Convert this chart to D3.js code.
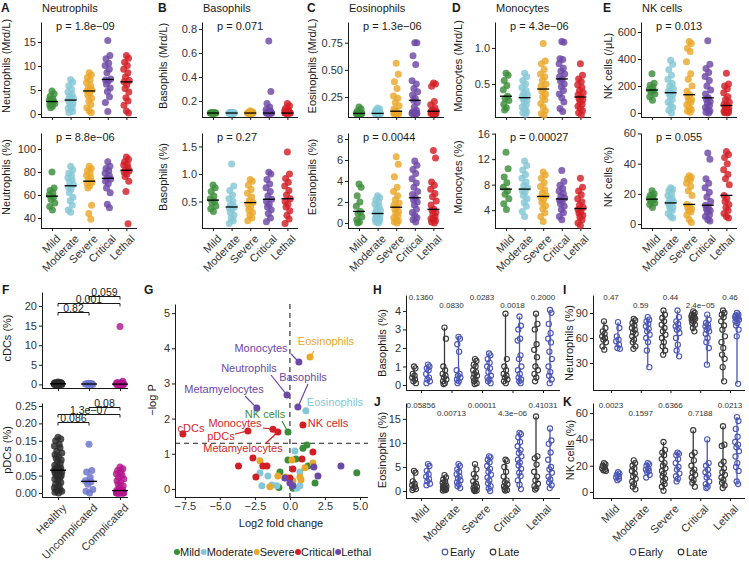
<!DOCTYPE html>
<html><head><meta charset="utf-8">
<script src="https://cdn.jsdelivr.net/npm/d3@7"></script>
<style>body{margin:0;background:#fff}svg{display:block}text{font-family:'Liberation Sans',Arial,sans-serif}</style>
</head><body><script>
// ---------------- DATA ----------------
const categories = ["Mild","Moderate","Severe","Critical","Lethal"];
const catColors = ["#3a8d3a","#84c7d6","#e9a72b","#6d48a6","#d21f26"];
const volcanoColors = ["#3a8d3a","#84c7d6","#e9a72b","#d21f26","#6d48a6"];

const neutrophilsAbs = [
  [4.8,4.2,3.7,3.2,2.9,2.6,2.5,2.2,1.9,1.6,1.3],
  [7.2,6.6,5.9,5.2,4.6,4.1,3.7,3.3,3.0,2.8,2.5,2.2,1.9,1.5,1.2,0.9,0.5,0.3],
  [8.6,8.2,7.6,7.1,6.5,5.9,5.4,5.0,4.8,4.4,3.9,3.3,2.7,2.0,1.3,0.6,0.3],
  [15.3,12.2,11.5,10.6,10.1,9.3,8.6,7.3,7.1,6.9,6.2,5.4,4.7,3.6,2.4,0.5],
  [12.2,11.6,10.8,10.1,9.3,8.6,7.7,7.0,6.7,6.1,5.3,4.6,3.4,2.7,1.8,0.6,0.2]
];
const neutrophilsPct = [
  [80,66,64,62,60,58,56,53,50,47],
  [85,82,79,77,75,73,71,69,67,65,62,58,55,51,47,45],
  [85,83,81,79,77,75,73,71,70,68,66,51,44,39],
  [89,85,83,81,79,77,75,74,72,70,66,62,52,49],
  [93,91,89,87,86,84,82,81,80,78,76,72,63,35]
];
const basophilsAbs = [
  [0.1,0.1,0.1,0.1,0.1,0.1,0.1,0.1,0.1,0.1,0.1],
  [0.1,0.1,0.1,0.1,0.1,0.1,0.1,0.1,0.1,0.1,0.1,0.1,0.1,0.1,0.1,0.1,0.1,0.1],
  [0.12,0.11,0.1,0.1,0.1,0.1,0.1,0.1,0.1,0.1,0.1,0.1,0.1,0.1,0.1,0.1,0.1],
  [0.7,0.28,0.18,0.15,0.13,0.12,0.11,0.1,0.1,0.1,0.1,0.1,0.1,0.1,0.1,0.1],
  [0.18,0.16,0.14,0.13,0.12,0.11,0.1,0.1,0.1,0.1,0.1,0.1,0.1,0.1,0.1,0.1]
];
const basophilsPct = [
  [0.8,0.75,0.68,0.6,0.55,0.5,0.47,0.42,0.37,0.32],
  [1.18,0.78,0.7,0.62,0.55,0.5,0.45,0.4,0.38,0.35,0.3,0.25,0.2,0.15,0.1],
  [0.9,0.87,0.8,0.72,0.65,0.58,0.52,0.48,0.45,0.4,0.35,0.3,0.25,0.2,0.15],
  [1.03,1.0,0.9,0.82,0.75,0.68,0.6,0.54,0.5,0.45,0.4,0.35,0.28,0.2,0.13],
  [1.4,1.0,0.92,0.85,0.78,0.7,0.62,0.55,0.5,0.45,0.4,0.33,0.25,0.18,0.1]
];
const eosinophilsAbs = [
  [0.16,0.14,0.12,0.11,0.1,0.1,0.1,0.1,0.1,0.1,0.1,0.1],
  [0.15,0.14,0.13,0.12,0.11,0.1,0.1,0.1,0.1,0.1,0.1,0.1,0.1,0.1,0.1,0.1,0.1],
  [0.56,0.46,0.39,0.33,0.26,0.24,0.2,0.17,0.14,0.12,0.12,0.1,0.1,0.1,0.1,0.1,0.1,0.1,0.1],
  [0.75,0.75,0.63,0.55,0.4,0.37,0.33,0.3,0.27,0.24,0.22,0.2,0.16,0.13,0.11,0.1,0.1,0.1,0.1,0.1,0.1],
  [0.38,0.37,0.35,0.21,0.18,0.15,0.13,0.12,0.12,0.1,0.1,0.1,0.1,0.1,0.1,0.1,0.1]
];
const eosinophilsPct = [
  [3.7,3.4,2.6,2.0,1.6,1.1,0.9,0.6,0.3,0.1,0.0],
  [2.6,2.4,2.2,2.0,1.8,1.6,1.4,1.2,1.0,0.9,0.8,0.7,0.6,0.5,0.4,0.3,0.2,0.1,0.0],
  [6.3,5.6,4.4,3.4,3.0,2.6,2.2,1.9,1.7,1.5,1.3,1.1,0.9,0.7,0.5,0.3,0.2,0.1,0.0],
  [5.9,5.5,5.1,4.7,4.2,3.8,3.4,3.0,2.7,2.4,2.2,2.0,1.7,1.3,1.0,0.7,0.5,0.3,0.1],
  [6.9,6.2,3.9,3.6,3.2,2.8,2.5,2.1,1.7,1.3,1.2,1.0,0.8,0.6,0.4,0.3,0.2,0.1,0.0]
];
const monocytesAbs = [
  [0.65,0.62,0.55,0.48,0.42,0.33,0.3,0.27,0.22,0.17,0.14],
  [0.65,0.6,0.55,0.5,0.45,0.41,0.38,0.35,0.33,0.31,0.29,0.27,0.24,0.21,0.18,0.15,0.12,0.1,0.08],
  [1.06,0.82,0.78,0.7,0.64,0.6,0.55,0.5,0.47,0.43,0.4,0.36,0.32,0.28,0.23,0.18,0.13,0.09,0.07],
  [1.09,1.08,0.85,0.84,0.78,0.72,0.68,0.64,0.6,0.57,0.54,0.5,0.46,0.41,0.36,0.31,0.25,0.16,0.12],
  [0.78,0.62,0.57,0.53,0.49,0.45,0.41,0.38,0.35,0.32,0.3,0.28,0.25,0.22,0.19,0.16,0.13,0.1,0.07]
];
const monocytesPct = [
  [13.1,10.5,9.2,8.3,7.6,7.0,6.5,5.8,5.0,4.1],
  [11.7,11.0,10.3,9.6,9.0,8.4,7.9,7.5,7.1,6.8,6.3,5.8,5.2,4.6,3.8,3.0],
  [10.0,9.5,9.0,8.3,7.7,7.2,6.7,6.3,6.0,5.7,5.2,4.7,4.2,3.6,3.0,2.2],
  [10.2,8.5,7.9,7.4,7.0,6.6,6.2,5.9,5.6,5.3,5.0,4.6,4.1,3.6,3.0,2.5],
  [9.0,7.6,7.0,6.4,5.8,5.3,4.8,4.4,4.1,3.8,3.5,3.2,2.9,2.5,2.0,1.6]
];
const nkAbs = [
  [290,220,205,190,175,165,155,140,120,95],
  [390,360,320,280,250,220,200,180,160,150,145,140,120,100,80,60,40,20,0],
  [530,515,480,455,380,290,250,200,160,135,120,100,90,80,60,40,25,15,5],
  [535,360,330,300,270,240,200,170,140,112,100,85,70,55,40,25,15,5,0],
  [295,215,200,180,150,120,100,80,65,55,45,35,25,18,12,8,5,2,0]
];
const nkPct = [
  [22,20,19,18,17,16,15,14,13,11],
  [24,23,22,20,19,17,16,15,14,13,12,11,10,9,7,5,4],
  [32,31,30,29,27,25,22,19,13,12,11,10,9,8,6,3,1],
  [47,43,30,27,24,21,18,15,12.5,11,10,9,8,6,5,3,2],
  [48,46,44,40,36,33,30,26,19,17,15,13,11,9,7,5,4]
];
const cellTitles = ["Neutrophils","Basophils","Eosinophils","Monocytes","NK cells"];
const absTitles = ["Neutrophils (Mrd/L)","Basophils (Mrd/L)","Eosinophils (Mrd/L)","Monocytes (Mrd/L)","NK cells (/μL)"];
const pctTitles = ["Neutrophils (%)","Basophils (%)","Eosinophils (%)","Monocytes (%)","NK cells (%)"];
const absP = ["p = 1.8e−09","p = 0.071","p = 1.3e−06","p = 4.3e−06","p = 0.013"];
const pctP = ["p = 8.8e−06","p = 0.27","p = 0.0044","p = 0.00027","p = 0.055"];

// Panel F
const dcGroups = ["Healthy","Uncomplicated","Complicated"];
const dcColors = ["#2b2b2b","#6a73c9","#b3158c"];
const cDCs = [
  [0.6,0.5,0.45,0.4,0.35,0.3,0.3,0.25,0.25,0.2,0.2,0.2,0.15,0.15,0.1,0.1,0.1,0.05,0.05,0.05,0,0,0,0,0],
  [0.3,0.2,0.15,0.1,0.1,0.05,0,0],
  [14.8,0.8,0.5,0.4,0.3,0.2,0.2,0.1,0.1,0.05,0.05,0,0,0,0,0,0,0]
];
const pDCs = [
  [0.16,0.155,0.15,0.14,0.135,0.13,0.12,0.115,0.11,0.105,0.1,0.095,0.09,0.085,0.08,0.075,0.072,0.07,0.068,0.066,0.065,0.064,0.06,0.058,0.055,0.052,0.05,0.048,0.045,0.04,0.035,0.03,0.025,0.02,0.015,0.01,0.008,0.005,0.002,0.0],
  [0.14,0.065,0.06,0.045,0.035,0.032,0.025,0.01,0.005,0.0],
  [0.075,0.07,0.065,0.06,0.055,0.05,0.045,0.04,0.035,0.03,0.025,0.02,0.015,0.01,0.008,0.006,0.004,0.003,0.002,0.001,0.001,0,0,0,0,0,0,0,0,0]
];
const cDCTests = [["Healthy","Uncomplicated","0.82",18.5],["Healthy","Complicated","0.001",20.8],["Uncomplicated","Complicated","0.059",22.6]];
const pDCTests = [["Healthy","Uncomplicated","0.086",0.204],["Healthy","Complicated","1.3e−07",0.227],["Uncomplicated","Complicated","0.08",0.247]];

// Panel G (log2 fold change, -log P)
const volcanoMild = [[1.21,1.25],[0.93,1.16],[-0.14,0.82],[-0.71,0.48],[1.79,0.17],[4.77,0.46],[0.21,0.02],[-0.79,0.04],[0.43,0.85],[1.29,0.65]];
const volcanoModerate = [[0.36,1.08],[-2.14,0.45],[-1.57,0.37],[-2.0,0.09],[-0.93,0.09],[0.71,0.48],[0.5,0.02],[-1.29,0.11],[0.71,0.09]];
const volcanoSevere = [[-2.14,0.8],[0.14,0.82],[-1.43,0.06],[1.07,0.6],[1.64,0.74],[-0.86,0.37],[0.71,0.34],[0.21,0.23],[-0.29,0.34],[0.79,0.26]];
const volcanoCritical = [[-3.67,0.65],[-2.64,0.88],[-1.64,0.65],[-2.43,0.34],[1.64,1.05],[0.86,0.85],[0.21,0.57],[-1.93,0.65],[0.0,0.31]];
const volcanoLethal = [[3.64,0.65],[2.0,0.37],[-0.36,0.31],[0.21,0.09],[1.71,0.62],[0.0,0.17]];
const volcanoLabeled = [
  ["Eosinophils","Severe",1.43,3.75],["Monocytes","Lethal",0.64,3.61],["Neutrophils","Lethal",-0.21,2.67],
  ["Basophils","Lethal",0.57,2.33],["Metamyelocytes","Lethal",-2.36,2.30],["Eosinophils","Moderate",1.14,2.22],
  ["NK cells","Mild",-0.14,1.62],["NK cells","Critical",0.93,1.82],["cDCs","Critical",-7.64,1.56],
  ["Monocytes","Critical",-1.21,1.70],["pDCs","Critical",-3.0,1.65],["Metamyelocytes","Critical",-0.86,1.62]
];
const volcanoXTicks = [-7.5,-5,-2.5,0,2.5,5];
const volcanoYTicks = [0,1,2,3,4,5];
const pThreshold = 1.3;

// Panels H-K (Late / Early)
const basoLate = [[1.0,0.9,0.6,0.5,0.4,0.3,0.2,0.1],[3.1,2.5,1.0,0.8,0.6,0.5,0.4,0.3,0.2,0.1,0.05],[1.4,1.3,1.1,1.0,0.8,0.7,0.6,0.5,0.4,0.3,0.2,0.1,0.05],[3.85,1.4,1.0,0.8,0.6,0.5,0.4,0.3,0.2,0.1],[3.85,3.3,3.0,2.2,1.9,1.5,1.0,0.8,0.6,0.4,0.2]];
const basoEarly = [[1.1,1.0,0.9,0.8,0.6,0.4,0.3,0.2,0.1],[2.6,2.5,2.2,1.8,0.8,0.6,0.5,0.4,0.3,0.2,0.1],[1.7,1.6,1.4,1.2,1.0,0.9,0.7,0.5,0.4,0.3,0.2,0.1],[3.7,3.2,3.0,2.5,2.4,1.6,1.4,1.0,0.8,0.6,0.4,0.3,0.2,0.1],[4.05,3.9,3.3,2.8,2.5,2.3,1.8,1.4,1.0,0.7,0.5,0.3,0.1]];
const neutLate = [[80,72,68,65,62,60,58,55,50,46],[83,81,78,75,72,70,67,65,62,58,55,50,47],[93,88,84,80,76,72,68,64,60,55,50,45,40],[92,90,88,87,86,85,84,83,82,80,78,76,72,68],[93,90,88,85,80,75,70,62,55,48,40,35,25,8]];
const neutEarly = [[79,72,62,58,56,52,48,47],[85,82,80,77,74,71,68,64,60,55,45,25],[93,85,80,77,74,72,70,66,60,52,45,38],[88,82,78,76,74,72,70,68,65,60,55,48,28],[90,88,87,86,85,84,83,82,80,78,75,70,62,5]];
const eosLate = [[4.2,3.8,2.0,1.5,1.2,0.9,0.6,0.4,0.2],[3.3,2.8,2.4,2.0,1.7,1.4,1.2,1.0,0.8,0.6,0.5,0.4,0.3,0.2,0.1],[5.6,4.5,3.5,2.8,2.0,1.5,1.2,0.9,0.6,0.4,0.2,0.1,0.0],[6.5,6.2,5.0,4.0,3.0,2.2,1.8,1.4,1.0,0.7,0.4,0.2,0.1],[15.5,7.2,6.8,5.5,4.0,3.0,2.2,1.5,1.0,0.6,0.3]];
const eosEarly = [[5.6,5.2,4.2,3.5,3.0,2.5,2.0,1.5,1.2],[5.6,5.2,4.5,4.0,3.5,3.0,2.6,2.2,1.8,1.4,1.0,0.6],[7.2,7.0,6.5,6.0,5.2,4.6,4.0,3.4,2.8,2.2,1.6,1.0,0.5,0.0],[12.1,11.8,11.2,10.2,9.3,8.5,7.9,7.2,6.5,5.9,5.3,4.6,3.8,3.1,2.2,1.3,0.4],[13.0,10.5,9.8,8.0,6.5,5.0,4.5,3.8,3.0,2.4,1.8,1.2,0.6]];
const nkLate = [[22,21,20,19,18,17,16.5,16],[24,22,20,18,16,14,12,10,8,6,4,2],[38,32,30,28,25,22,20,18,16,14,12,10,8,6,4,1],[47,30,28,24,20,17,15,13,11,9,7,4],[50,36,35,23,21,18,15,13,11,9,7,5,3]];
const nkEarly = [[15,14,13,12,11,10,9],[22,21,20,18,17,16,15,13,11],[30,29,28,25,22,19,17,14,12,10,8],[40,22,20,17,15,13,11,8,6,4,3],[57,54,48,42,38,36,34,31,27,22,19,16,8,6]];
const basoP = ["0.1360","0.0830","0.0283","0.0018","0.2000"];
const neutP = ["0.47","0.59","0.44","2.4e−05","0.46"];
const eosP = ["0.05856","0.00713","0.00011","4.3e−06","0.41031"];
const nkP = ["0.0023","0.1597","0.6366","0.7188","0.0213"];

// ---------------- DRAWING ----------------
const FONT = "'Liberation Sans', Arial, sans-serif";
const TXT = "#1a1a1a", TICK = "#333", AX = "#1a1a1a";
const LATE = "#3a3a3a", EARLY = "#4b56b5";
const jitterPattern = [0,0.7,-0.6,0.3,-0.9,0.5,-0.3,0.95,-0.75,0.15,-0.45,0.8,-0.15,0.55,-0.8];
const jit = i => jitterPattern[i % jitterPattern.length];

const svg = d3.select("body").append("svg").attr("width",749).attr("height",561)
  .attr("font-family",FONT);

function txt(x,y,s,opt={}){
  return svg.append("text").attr("x",x).attr("y",y).attr("font-size",opt.size||11)
    .attr("fill",opt.fill||TXT).attr("text-anchor",opt.anchor||"start")
    .attr("font-weight",opt.bold?"bold":null).text(s);
}
function rotText(cx,cy,s,size){
  svg.append("text").attr("transform",`translate(${cx},${cy}) rotate(-90)`)
    .attr("text-anchor","middle").attr("dy","0.35em").attr("font-size",size||11).attr("fill",TXT).text(s);
}
function yAxis(x, scale, ticks, fmt){
  const g = svg.append("g").attr("transform",`translate(${x},0)`)
    .call(d3.axisLeft(scale).tickValues(ticks).tickFormat(fmt).tickSize(3).tickSizeOuter(0).tickPadding(2));
  g.attr("font-family",FONT).attr("font-size",11);
  g.select(".domain").attr("stroke",AX);
  g.selectAll(".tick line").attr("stroke",AX);
  g.selectAll(".tick text").attr("fill",TICK);
}
function xAxisB(yPos, scale, x0, x1, withLabels){
  svg.append("line").attr("x1",x0).attr("x2",x1).attr("y1",yPos+0.5).attr("y2",yPos+0.5).attr("stroke",AX);
  const g = svg.append("g").attr("transform",`translate(0,${yPos})`)
    .call(d3.axisBottom(scale).tickSize(3).tickSizeOuter(0));
  g.attr("font-family",FONT).attr("font-size",11);
  g.select(".domain").remove();
  g.selectAll(".tick line").attr("stroke",AX);
  if(withLabels){
    g.selectAll(".tick text").attr("x",0).attr("y",0).attr("dy","0.71em").attr("text-anchor","end")
      .attr("transform","translate(3,6) rotate(-45)").attr("fill",TICK);
  } else g.selectAll(".tick text").remove();
}

function stripPanel(o){
  const y = d3.scaleLinear().domain(o.domain).range([o.bottom,o.top]);
  const x = d3.scalePoint().domain(o.cats).range(o.xr);
  yAxis(o.x0,y,o.ticks,o.fmt);
  xAxisB(o.bottom,x,o.x0,o.x1,o.labels);
  o.values.forEach((vals,ci)=>{
    const cx = x(o.cats[ci]);
    svg.append("g").selectAll("circle").data(vals).join("circle")
      .attr("cx",(d,i)=>cx+jit(i)*o.jw).attr("cy",d=>y(d)).attr("r",o.r)
      .attr("fill",o.colors[ci]).attr("fill-opacity",0.82);
  });
  o.values.forEach((vals,ci)=>{
    const cx = x(o.cats[ci]), m = y(d3.median(vals));
    svg.append("line").attr("x1",cx-o.mw).attr("x2",cx+o.mw).attr("y1",m).attr("y2",m)
      .attr("stroke","#000").attr("stroke-width",1.3);
  });
  if(o.title) rotText(o.tx,o.ty,o.title);
  if(o.p) txt(o.xr[0]+4,o.pY,o.p);
  return {x,y};
}

// ---- Top row (A-E)
const x0s = [41,202,348,495,641];
const titleXs = [6,163,312,458,608];
const letters = ["A","B","C","D","E"], letterX = [1,158,307,452,603];
const absSets = [neutrophilsAbs,basophilsAbs,eosinophilsAbs,monocytesAbs,nkAbs];
const pctSets = [neutrophilsPct,basophilsPct,eosinophilsPct,monocytesPct,nkPct];
const absDomains = [[-0.625,19.17],[0.067,0.858],[0.067,0.94],[0.042,1.36],[-30,674]];
const pctDomains = [[31.3,113.9],[0.018,1.745],[-0.48,8.57],[1.2,16.1],[-2.6,60.3]];
const absTicks = [[0,5,10,15],[0.2,0.4,0.6,0.8],[0.25,0.5,0.75],[0.5,1.0],[0,200,400,600]];
const pctTicks = [[40,60,80,100],[0.5,1.0,1.5],[0,2,4,6,8],[4,8,12,16],[0,20,40,60]];
const absFmt = [d3.format("d"),d3.format(".1f"),d3.format(".2f"),d3.format(".1f"),d3.format("d")];
const pctFmt = [d3.format("d"),d3.format(".1f"),d3.format("d"),d3.format("d"),d3.format("d")];

for(let k=0;k<5;k++){
  const x0 = x0s[k];
  txt(letterX[k],11.5,letters[k],{size:12,bold:true});
  txt(x0+1,11.5,cellTitles[k],{size:11});
  const base = {x0, x1:x0+96, xr:[x0+11,x0+11+4*18.6], cats:categories, colors:catColors, jw:3, r:3.5, mw:6, tx:titleXs[k]};
  stripPanel(Object.assign({},base,{top:22,bottom:117,domain:absDomains[k],ticks:absTicks[k],fmt:absFmt[k],
    values:absSets[k],labels:false,title:absTitles[k],ty:66,p:absP[k],pY:30}));
  stripPanel(Object.assign({},base,{top:133,bottom:228,domain:pctDomains[k],ticks:pctTicks[k],fmt:pctFmt[k],
    values:pctSets[k],labels:true,title:pctTitles[k],ty:177,p:pctP[k],pY:141}));
}

// ---- Panel F
txt(2,294,"F",{size:12,bold:true});
function brackets(sc, tests){
  tests.forEach(t=>{
    const xa = sc.x(t[0]), xb = sc.x(t[1]), yy = Math.round(sc.y(t[3]))+0.5;
    svg.append("path").attr("d",`M${xa},${yy+3}V${yy}H${xb}V${yy+3}`).attr("fill","none").attr("stroke",AX);
    txt((xa+xb)/2,yy-1,t[2],{anchor:"middle",size:10.5});
  });
}
const fBase = {x0:42,x1:128,xr:[58,120],cats:dcGroups,colors:dcColors,jw:4,r:3.5,mw:8,tx:7};
const fU = stripPanel(Object.assign({},fBase,{top:292,bottom:388,domain:[-0.92,23.57],ticks:[0,5,10,15,20],fmt:d3.format("d"),
  values:cDCs,labels:false,title:"cDCs (%)",ty:338}));
brackets(fU,cDCTests);
const fL = stripPanel(Object.assign({},fBase,{top:403,bottom:497,domain:[-0.0115,0.2586],ticks:[0,0.05,0.1,0.15,0.2,0.25],fmt:d3.format(".2f"),
  values:pDCs,labels:true,title:"pDCs (%)",ty:450}));
brackets(fL,pDCTests);

// ---- Panel G (volcano)
txt(144,294,"G",{size:12,bold:true});
const gx = d3.scaleLinear().domain([-8.2,5.57]).range([175,368]);
const gy = d3.scaleLinear().domain([-0.23,5.26]).range([497,304]);
yAxis(175,gy,volcanoYTicks,d3.format("d"));
{
  svg.append("line").attr("x1",175).attr("x2",368).attr("y1",497.5).attr("y2",497.5).attr("stroke",AX);
  const g = svg.append("g").attr("transform","translate(0,497)")
    .call(d3.axisBottom(gx).tickValues(volcanoXTicks).tickFormat(d3.format(".1f")).tickSize(3).tickSizeOuter(0).tickPadding(2));
  g.attr("font-family",FONT).attr("font-size",11);
  g.select(".domain").remove();
  g.selectAll(".tick line").attr("stroke",AX);
  g.selectAll(".tick text").attr("fill",TICK);
}
rotText(152,400,"−log P");
txt(281,527,"Log2 fold change",{anchor:"middle"});
svg.append("line").attr("x1",175).attr("x2",368).attr("y1",gy(pThreshold)).attr("y2",gy(pThreshold))
  .attr("stroke","#222").attr("stroke-width",1.1).attr("stroke-dasharray","5,4");
svg.append("line").attr("x1",gx(0)).attr("x2",gx(0)).attr("y1",304).attr("y2",497)
  .attr("stroke","#222").attr("stroke-width",1.1).attr("stroke-dasharray","5,4");
const volcanoSets = [volcanoMild,volcanoModerate,volcanoSevere,volcanoCritical,volcanoLethal];
volcanoSets.forEach((pts,ci)=>{
  svg.append("g").selectAll("circle").data(pts).join("circle")
    .attr("cx",d=>gx(d[0])).attr("cy",d=>gy(d[1])).attr("r",3.5).attr("fill",volcanoColors[ci]);
});
// label layout (pixel): text centre x, baseline y, leader end x,y
const volcanoLabelLayout = [
  [326,345,314,351],[261,352,291,354],[249,372,271,375],[303,381,308,384],[224,393,245,396],[335,406,null,null],
  [265,418,282,421],[328,427,null,null],[191,432,null,null],[235,427,263,428],[221,440,235,434],[243,452,266,443]
];
volcanoLabeled.forEach((d,i)=>{
  const col = volcanoColors[categories.indexOf(d[1])];
  const L = volcanoLabelLayout[i];
  if(L[2]!==null){
    svg.append("line").attr("x1",gx(d[2])).attr("y1",gy(d[3])).attr("x2",L[2]).attr("y2",L[3])
      .attr("stroke",col).attr("stroke-width",1.2);
  }
  svg.append("circle").attr("cx",gx(d[2])).attr("cy",gy(d[3])).attr("r",3.5).attr("fill",col);
  txt(L[0],L[1],d[0],{anchor:"middle",fill:col});
});
// legend
{
  let lx = 174;
  categories.forEach((c,i)=>{
    svg.append("circle").attr("cx",lx+3).attr("cy",552).attr("r",3).attr("fill",volcanoColors[i]);
    const t = txt(lx+6,556,c,{size:11});
    lx = lx + 6 + t.node().getComputedTextLength() + 0.5;
  });
}

// ---- Panels H-K
function pairPanel(o){
  const y = d3.scaleLinear().domain(o.domain).range([o.bottom,o.top]);
  const x = d3.scalePoint().domain(categories).range(o.xr);
  yAxis(o.x0,y,o.ticks,d3.format("d"));
  xAxisB(o.bottom,x,o.x0,o.x1,o.labels);
  [[o.late,LATE,-7],[o.early,EARLY,7]].forEach(([arr,col,off])=>{
    arr.forEach((vals,ci)=>{
      const cx = x(categories[ci])+off;
      const ex = d3.extent(vals);
      svg.append("line").attr("x1",cx).attr("x2",cx).attr("y1",y(ex[0])).attr("y2",y(ex[1]))
        .attr("stroke",col).attr("stroke-width",1.3);
      svg.append("g").selectAll("circle").data(vals).join("circle")
        .attr("cx",(d,i)=>cx+jit(i)*2).attr("cy",d=>y(d)).attr("r",2.6)
        .attr("fill","none").attr("stroke",col).attr("stroke-width",1.1);
    });
  });
  o.p.forEach((p,ci)=>{
    txt(x(categories[ci]),ci%2===0?o.pY[0]:o.pY[1],p,{anchor:"middle",size:8,fill:"#333"});
  });
  rotText(o.tx,o.ty,o.title);
  txt(o.lx,o.ly,o.letter,{size:12,bold:true});
}
pairPanel({x0:406,x1:560,xr:[421,543],top:295,bottom:390,domain:[-0.27,4.86],ticks:[0,1,2,3,4],
  late:basoLate,early:basoEarly,p:basoP,pY:[300,308],labels:false,title:"Basophils (%)",tx:382,ty:343,letter:"H",lx:373,ly:294});
pairPanel({x0:593,x1:745,xr:[611,730],top:295,bottom:390,domain:[-2.4,111.6],ticks:[30,60,90],
  late:neutLate,early:neutEarly,p:neutP,pY:[300,308],labels:false,title:"Neutrophils (%)",tx:569,ty:343,letter:"I",lx:563,ly:294});
pairPanel({x0:406,x1:560,xr:[421,543],top:403,bottom:498,domain:[-1.46,18.3],ticks:[0,5,10,15],
  late:eosLate,early:eosEarly,p:eosP,pY:[408,416],labels:true,title:"Eosinophils (%)",tx:382,ty:450,letter:"J",lx:374,ly:406});
pairPanel({x0:593,x1:745,xr:[611,730],top:403,bottom:498,domain:[-4.6,67.7],ticks:[0,20,40,60],
  late:nkLate,early:nkEarly,p:nkP,pY:[408,416],labels:true,title:"NK cells (%)",tx:570,ty:450,letter:"K",lx:563,ly:406});

// Early/Late legends
[[445,493],[633,681]].forEach(([a,b])=>{
  svg.append("circle").attr("cx",a).attr("cy",552).attr("r",2.8).attr("fill","none").attr("stroke",EARLY).attr("stroke-width",1.2);
  txt(a+5,556,"Early",{size:11});
  svg.append("circle").attr("cx",b).attr("cy",552).attr("r",2.8).attr("fill","none").attr("stroke",LATE).attr("stroke-width",1.2);
  txt(b+5,556,"Late",{size:11});
});
</script></body></html>
